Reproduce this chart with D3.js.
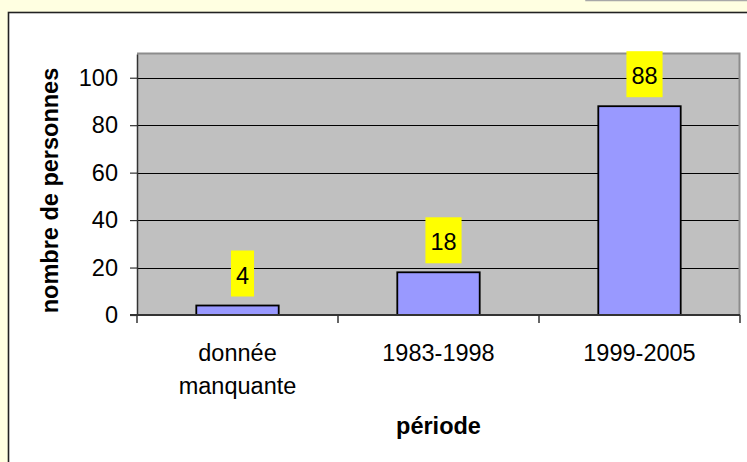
<!DOCTYPE html>
<html>
<head>
<meta charset="utf-8">
<script src="https://cdn.jsdelivr.net/npm/d3@7/dist/d3.min.js"></script>
<style>
  html, body { margin: 0; padding: 0; background: #FFFFE1; }
  svg { display: block; }
  text { font-family: "Liberation Sans", Arial, sans-serif; }
</style>
</head>
<body>
<svg id="chart" width="747" height="462"></svg>
<script>
const categories = [["donnée", "manquante"], ["1983-1998"], ["1999-2005"]];
const values = [4, 18, 88];
const yTicks = [0, 20, 40, 60, 80, 100];
const yTitle = "nombre de personnes";
const xTitle = "période";

const svg = d3.select("#chart");
const W = 747, H = 462;
const FS = 23.5;

// page background
svg.append("rect").attr("x", 0).attr("y", 0).attr("width", W).attr("height", H).attr("fill", "#FFFFE1");
// other box edge top-right
svg.append("rect").attr("x", 586).attr("y", -20).attr("width", 200).attr("height", 20.5)
  .attr("fill", "#FFFFE1").attr("stroke", "#A8A8A8").attr("stroke-width", 1.5);
// chart frame
svg.append("rect").attr("x", 8.5).attr("y", 12.5).attr("width", 760).attr("height", 480)
  .attr("fill", "#FFFFFF").attr("stroke", "#222").attr("stroke-width", 1.6);

const plotL = 137, plotR = 740, plotT = 54, plotB = 315;
const keys = categories.map((c, i) => i);
const x = d3.scaleBand().domain(keys).range([plotL, plotR]).paddingInner(0.59).paddingOuter(0.295);
const y = d3.scaleLinear().domain([0, 110]).range([plotB, plotT]);
const step = x.step();

// plot area
svg.append("rect").attr("x", plotL).attr("y", plotT).attr("width", plotR - plotL).attr("height", plotB - plotT)
  .attr("fill", "#C0C0C0");
// gridlines
svg.append("g").selectAll("line").data(yTicks.filter(t => t > 0)).join("line")
  .attr("x1", plotL).attr("x2", plotR)
  .attr("y1", d => Math.round(y(d)) + 0.5).attr("y2", d => Math.round(y(d)) + 0.5)
  .attr("stroke", "#000").attr("stroke-width", 1);
// top & right border
svg.append("path")
  .attr("d", `M${plotL},${plotT - 0.5}H${plotR - 0.5}V${plotB}`)
  .attr("fill", "none").attr("stroke", "#8C8C8C").attr("stroke-width", 2);

// bars
svg.append("g").selectAll("rect").data(values).join("rect")
  .attr("x", (d, i) => x(i)).attr("width", x.bandwidth())
  .attr("y", d => y(d)).attr("height", d => y(0) - y(d))
  .attr("fill", "#9999FF").attr("stroke", "#000").attr("stroke-width", 1.8);

// y axis
const yAxis = d3.axisLeft(y).tickValues(yTicks).tickSize(7).tickPadding(12).tickSizeOuter(0);
const gy = svg.append("g").attr("transform", `translate(${plotL},0)`).call(yAxis);
gy.select(".domain").attr("stroke", "#333").attr("stroke-width", 1.5);
gy.selectAll(".tick line").attr("stroke", "#333").attr("stroke-width", 1.2);
gy.selectAll(".tick text").attr("font-size", FS).attr("fill", "#000")
  .style("font-family", "'Liberation Sans', Arial, sans-serif");

// x axis line and ticks at band boundaries
const bounds = keys.map(i => x(i) - step * x.paddingInner() / 2).concat([plotR]);
svg.append("line").attr("x1", plotL - 7).attr("x2", plotR).attr("y1", plotB).attr("y2", plotB)
  .attr("stroke", "#333").attr("stroke-width", 2);
svg.append("g").selectAll("line").data(bounds).join("line")
  .attr("x1", d => d).attr("x2", d => d).attr("y1", plotB).attr("y2", plotB + 8)
  .attr("stroke", "#333").attr("stroke-width", 1.5);

// category labels
const catG = svg.append("g");
categories.forEach((lines, i) => {
  const cx = x(i) + x.bandwidth() / 2;
  lines.forEach((ln, j) => {
    catG.append("text").attr("x", cx).attr("y", 361 + j * 33)
      .attr("text-anchor", "middle").attr("font-size", FS).attr("fill", "#000").text(ln);
  });
});

// data labels
const lab = svg.append("g");
values.forEach((v, i) => {
  const cx = x(i) + x.bandwidth() / 2 + 5;
  const bottom = y(v) - 9;
  const t = lab.append("text").attr("x", cx).attr("y", bottom - 13)
    .attr("text-anchor", "middle").attr("font-size", FS).attr("fill", "#000").text(v);
  const tw = t.node().getComputedTextLength();
  lab.insert("rect", "text").attr("x", cx - tw / 2 - 5).attr("y", bottom - 46)
    .attr("width", tw + 10).attr("height", 46).attr("fill", "#FFFF00");
});

// axis titles
svg.append("text").attr("transform", `translate(58,${(plotT + plotB) / 2 + 6}) rotate(-90)`)
  .attr("text-anchor", "middle").attr("font-size", FS).attr("font-weight", "bold").attr("fill", "#000").text(yTitle);
svg.append("text").attr("x", (plotL + plotR) / 2).attr("y", 434)
  .attr("text-anchor", "middle").attr("font-size", FS).attr("font-weight", "bold").attr("fill", "#000").text(xTitle);
</script>
</body>
</html>
